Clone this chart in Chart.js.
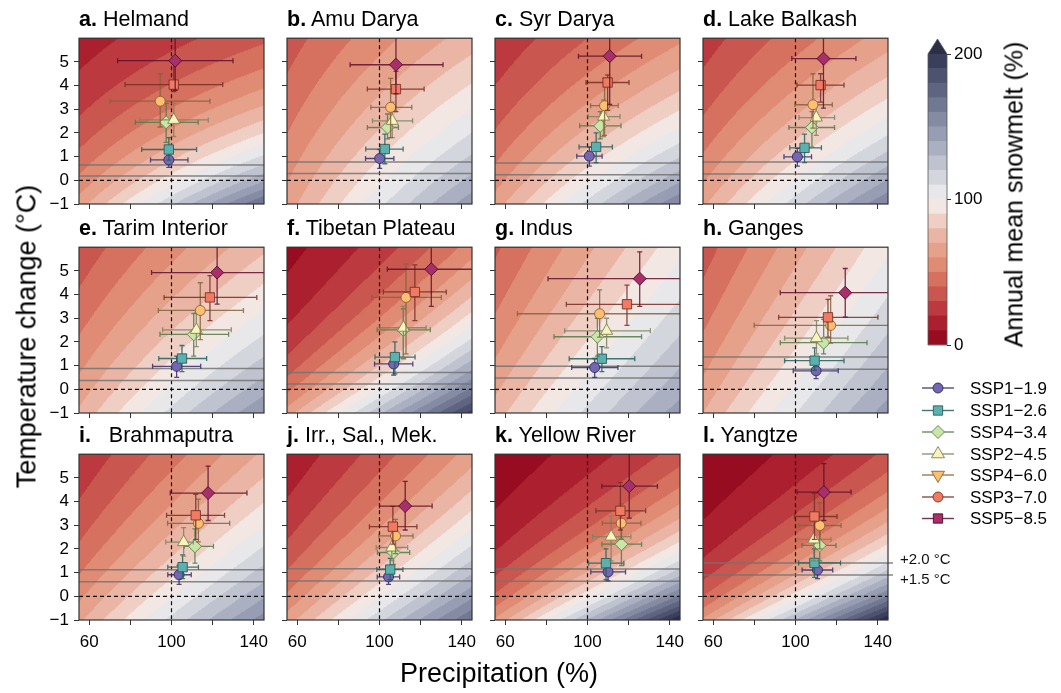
<!DOCTYPE html>
<html><head><meta charset="utf-8">
<script src="https://cdn.jsdelivr.net/npm/chart.js@4.4.1/dist/chart.umd.min.js"></script>
<style>
body{margin:0;background:#fff;width:1061px;height:693px;overflow:hidden;position:relative;font-family:"Liberation Sans",Arial,sans-serif;color:#000}
canvas{position:absolute}
.title{position:absolute;font-size:21.5px;line-height:21px;white-space:pre;color:#000}
.rot{position:absolute;white-space:nowrap;text-align:center;transform:rotate(-90deg);transform-origin:50% 50%}
</style></head><body>
<script>
// ---------- categories ----------
const basinLetters = ['a.','b.','c.','d.','e.','f.','g.','h.','i.','j.','k.','l.'];
const basinNames = ['Helmand','Amu Darya','Syr Darya','Lake Balkash','Tarim Interior','Tibetan Plateau','Indus','Ganges','Brahmaputra','Irr., Sal., Mek.','Yellow River','Yangtze'];
const scenarios = ['SSP1\u22121.9','SSP1\u22122.6','SSP4\u22123.4','SSP2\u22124.5','SSP4\u22126.0','SSP3\u22127.0','SSP5\u22128.5'];
const xTicks = [60,80,100,120,140];
const xLabeled = [60,100,140];
const yTicks = [-1,0,1,2,3,4,5];
const cbarLevels = [0,10,20,30,40,50,60,70,80,90,100,110,120,130,140,150,160,170,180,190,200];
const cbarTicks = [0,100,200];

// ---------- series values (precipitation %, temperature change °C) ----------
const precip119 = [98.7,100.1,100.9,100.9,102.5,106.9,103.5,110.0,103.7,104.4,110.0,110.7];
const temp119   = [0.86,0.92,1.02,0.99,0.97,1.07,0.92,0.78,0.91,0.82,1.03,1.11];
const pLo119 = [89.8,93.2,94.8,94.4,90.8,97.6,92.3,98.9,98.2,98.9,101.6,103.2];
const pHi119 = [108.0,107.0,107.1,107.8,114.2,116.2,114.8,120.8,109.6,109.8,118.5,118.1];
const tLo119 = [0.55,0.5,0.6,0.6,0.5,0.6,0.5,0.45,0.5,0.5,0.65,0.75];
const tHi119 = [1.2,1.3,1.4,1.35,1.4,1.5,1.3,1.1,1.3,1.1,1.3,1.4];

const precip126 = [98.7,102.6,104.2,104.4,105.1,107.5,107.0,109.3,105.4,105.2,109.0,109.2];
const temp126   = [1.30,1.32,1.41,1.37,1.30,1.36,1.29,1.21,1.23,1.13,1.40,1.41];
const pLo126 = [85.5,93.3,95.9,97.2,93.8,97.8,91.1,94.7,98.2,98.7,100.5,101.5];
const pHi126 = [112.2,111.5,112.1,112.6,117.1,117.3,123.0,123.6,113.1,111.4,117.7,121.9];
const tLo126 = [0.85,0.7,0.75,0.75,0.75,0.65,0.75,0.8,0.75,0.7,0.7,0.8];
const tHi126 = [1.8,1.95,2.0,1.95,1.85,2.0,1.8,1.75,1.75,1.6,2.0,2.0];

const precip434 = [97.4,103.9,106.2,108.0,110.8,111.6,104.8,113.7,111.4,106.8,116.5,111.8];
const temp434   = [2.45,2.23,2.30,2.23,2.32,2.51,2.22,1.97,2.11,1.85,2.20,2.15];
const pLo434 = [82.4,94.1,96.2,96.8,94.4,98.9,83.7,92.6,106.2,99.0,107.0,103.1];
const pHi434 = [113.0,109.2,116.3,119.0,127.8,124.7,126.3,134.8,120.4,114.7,126.3,119.7];
const tLo434 = [1.6,1.75,1.75,1.4,1.4,1.3,1.4,1.5,1.4,1.35,1.3,1.5];
const tHi434 = [3.25,2.8,2.9,2.9,3.2,3.4,3.0,2.95,2.85,2.5,2.9,2.9];

const precip245 = [101.1,106.2,107.8,110.1,112.1,111.6,109.3,110.2,105.9,106.0,111.5,108.9];
const temp245   = [2.55,2.51,2.69,2.65,2.51,2.60,2.47,2.16,2.29,2.06,2.52,2.40];
const pLo245 = [84.6,96.6,100.3,101.7,95.7,100.2,88.9,94.7,97.2,98.4,102.5,100.8];
const pHi245 = [117.9,116.1,115.8,119.0,129.1,122.7,130.6,125.5,110.6,113.7,121.1,117.3];
const tLo245 = [1.85,1.8,1.85,1.9,1.8,1.3,1.75,1.5,1.7,1.5,1.5,1.5];
const tHi245 = [3.25,3.3,3.4,3.3,3.25,3.5,3.0,2.9,2.9,2.9,3.4,3.1];

const precip460 = [94.5,105.4,108.3,108.5,114.0,112.9,105.9,117.1,113.1,107.8,116.4,111.8];
const temp460   = [3.34,3.08,3.15,3.19,3.33,3.88,3.19,2.70,3.08,2.55,3.09,2.99];
const pLo460 = [70.2,95.8,101.5,99.7,93.6,96.2,65.9,79.9,98.1,99.7,107.2,101.5];
const pHi460 = [118.7,115.7,114.9,117.9,135.0,130.1,150,150,128.3,116.3,126.0,122.2];
const tLo460 = [2.25,1.8,1.9,2.2,2.1,1.5,2.2,1.95,2.3,1.8,2.4,2.0];
const tHi460 = [4.5,4.3,4.3,4.5,4.5,5.3,4.2,3.95,4.1,3.25,3.9,3.95];

const precip370 = [101.1,108.0,109.8,112.2,118.7,117.2,119.2,115.8,111.8,106.5,116.0,109.2];
const temp370   = [4.04,3.85,4.13,4.02,3.88,4.11,3.59,3.04,3.42,2.94,3.61,3.37];
const pLo370 = [77.4,94.1,99.3,100.7,96.4,101.9,89.7,91.8,97.6,95.1,104.1,99.5];
const pHi370 = [124.9,121.7,120.2,123.6,141.5,132.5,150,140.1,125.8,118.2,128.3,120.2];
const tLo370 = [3.75,2.9,2.95,3.3,2.9,2.9,2.7,2.2,2.4,2.2,2.8,2.4];
const tHi370 = [4.95,4.6,4.45,4.5,4.8,5.25,4.4,3.8,4.3,3.8,4.8,4.35];

const precip585 = [101.8,108.0,110.8,113.6,122.2,125.2,125.4,124.2,117.8,112.5,120.3,113.8];
const temp585   = [5.05,4.88,5.24,5.14,4.93,5.07,4.67,4.08,4.36,3.81,4.65,4.40];
const pLo585 = [73.8,85.7,95.6,98.2,90.3,103.8,80.8,92.6,99.4,100.0,107.0,100.8];
const pHi585 = [129.9,130.9,126.3,129.4,150,150,150,150,136.7,125.6,134.0,127.0];
const tLo585 = [3.8,3.65,3.2,3.05,3.6,3.5,3.5,3.05,3.2,2.8,3.3,3.2];
const tHi585 = [6.5,6.5,6.5,6.5,6.5,6.5,5.8,5.1,5.5,4.85,6.0,5.6];

// warming-level lines (temperature change at +2.0 °C and +1.5 °C global warming)
const warm20 = [0.65,0.77,0.73,0.77,0.88,0.71,0.97,1.36,1.12,1.16,1.15,1.41];
const warm15 = [0.18,0.29,0.24,0.27,0.37,0.22,0.48,0.85,0.61,0.65,0.64,0.90];

// snowmelt response surface (%), read at the panel corners
const bgTopLeft     = [15,35,22,25,33,7,38,35,22,13,4,3];
const bgTopRight    = [38,75,58,65,78,55,97,98,72,65,35,33];
const bgBottomLeft  = [65,65,65,68,72,65,75,70,68,65,62,62];
const bgBottomRight = [172,147,160,160,150,195,145,145,155,170,210,210];

// ---------- styles ----------
const FONT = '"Liberation Sans", Arial, sans-serif';
Chart.defaults.font.family = FONT;
const palette = ['#980c22','#ab1f2e','#bc3a3f','#c9564f','#d6705f','#e08b74','#e6a18b','#eab5a5','#efcec4','#f3e7e4','#e8e8ea','#d4d6de','#bfc3cf','#aab0c1','#979eb3','#848ba3','#717892','#5f6581','#4c5270','#3a3f5c','#2a2e47'];
const markerFill = ['#7466b0','#5cb0ad','#c8e6a8','#f7f5bd','#fdbf70','#f07a62','#a8306a'];
const markerEdge = ['#2f2860','#2a5e5c','#5d7f4f','#7f7f55','#8a6035','#7e3024','#4a0c28'];
const barColor = ['rgba(50,45,105,0.85)','rgba(35,95,92,0.85)','rgba(85,120,70,0.85)','rgba(125,130,95,0.85)','rgba(130,100,60,0.85)','rgba(120,45,35,0.85)','rgba(95,15,45,0.85)'];
const panelStyle = ['circle','rect','rectRot','triangle','circle','rect','rectRot'];
const panelRadius = [5,6.6,6.5,7,5,6.6,6.5];
const legendStyle = ['circle','rect','rectRot','triangle','triangle','circle','rect'];
const legendRot = [0,0,0,0,180,0,0];
const legendRadius = [5,6.6,6.5,7.5,7.5,5,6.6];

const P = [precip119,precip126,precip434,precip245,precip460,precip370,precip585];
const T = [temp119,temp126,temp434,temp245,temp460,temp370,temp585];
const PLo = [pLo119,pLo126,pLo434,pLo245,pLo460,pLo370,pLo585];
const PHi = [pHi119,pHi126,pHi434,pHi245,pHi460,pHi370,pHi585];
const TLo = [tLo119,tLo126,tLo434,tLo245,tLo460,tLo370,tLo585];
const THi = [tHi119,tHi126,tHi434,tHi245,tHi460,tHi370,tHi585];

const paletteRGB = palette.map(h => [parseInt(h.slice(1,3),16),parseInt(h.slice(3,5),16),parseInt(h.slice(5,7),16)]);

// ---------- layout ----------
const colLeft = [79,287,495,703];
const rowTop = [33,242,449];
const PW = 185, PH = 171;
const ML = 52, MT = 10, MB = 42;

function surface(k, xs, ys, p, t){
  const u0 = Math.log(xs.min/100), u1 = Math.log(xs.max/100);
  const s = (Math.log(p/100) - u0)/(u1 - u0);
  const q = (t - ys.min)/(ys.max - ys.min);
  const lv = (1-s)*(1-q)*Math.log(bgBottomLeft[k]) + s*(1-q)*Math.log(bgBottomRight[k])
           + (1-s)*q*Math.log(bgTopLeft[k]) + s*q*Math.log(bgTopRight[k]);
  return Math.exp(lv);
}

const panelPlugin = {
  id:'panel',
  beforeDatasetsDraw(chart){
    const k = chart.options.plugins.panel.k;
    const {ctx, chartArea:a, scales:{x, y}} = chart;
    const w = Math.round(a.right - a.left), h = Math.round(a.bottom - a.top);
    const off = document.createElement('canvas'); off.width = w; off.height = h;
    const octx = off.getContext('2d');
    const img = octx.createImageData(w, h);
    for (let j = 0; j < h; j++){
      const tv = y.getValueForPixel(a.top + j + 0.5);
      for (let i = 0; i < w; i++){
        const pv = x.getValueForPixel(a.left + i + 0.5);
        const v = surface(k, x, y, pv, tv);
        const idx = Math.max(0, Math.min(20, Math.floor(v/10)));
        const c = paletteRGB[idx];
        const o = (j*w + i)*4;
        img.data[o] = c[0]; img.data[o+1] = c[1]; img.data[o+2] = c[2]; img.data[o+3] = 255;
      }
    }
    octx.putImageData(img, 0, 0);
    ctx.drawImage(off, a.left, a.top);
    // dashed reference lines
    ctx.save();
    ctx.strokeStyle = '#111'; ctx.lineWidth = 1.2; ctx.setLineDash([4,3]);
    const x100 = x.getPixelForValue(100), y0 = y.getPixelForValue(0);
    ctx.beginPath(); ctx.moveTo(x100, a.top); ctx.lineTo(x100, a.bottom);
    ctx.moveTo(a.left, y0); ctx.lineTo(a.right, y0); ctx.stroke();
    ctx.setLineDash([]);
    // warming level lines
    const ext = (k === 11) ? 5 : 0;
    ctx.strokeStyle = 'rgba(115,115,115,0.85)'; ctx.lineWidth = 1.5;
    const yw20 = y.getPixelForValue(warm20[k]), yw15 = y.getPixelForValue(warm15[k]);
    ctx.beginPath(); ctx.moveTo(a.left, yw20); ctx.lineTo(a.right + ext, yw20);
    ctx.moveTo(a.left, yw15); ctx.lineTo(a.right + ext, yw15); ctx.stroke();
    if (k === 11){
      ctx.fillStyle = '#111'; ctx.font = '15px ' + FONT; ctx.textBaseline = 'middle'; ctx.textAlign = 'left';
      ctx.fillText('+2.0 \u00B0C', a.right + 12, yw20 - 3);
      ctx.fillText('+1.5 \u00B0C', a.right + 12, yw15 + 5);
    }
    ctx.restore();
  },
  beforeDatasetDraw(chart, args){
    const ds = chart.data.datasets[args.index];
    const e = ds.err; if (!e) return;
    const {ctx, chartArea:a, scales:{x, y}} = chart;
    const px = x.getPixelForValue(ds.data[0].x), py = y.getPixelForValue(ds.data[0].y);
    const x0 = x.getPixelForValue(e.xLo), x1 = x.getPixelForValue(e.xHi);
    const y0 = y.getPixelForValue(e.yLo), y1 = y.getPixelForValue(e.yHi);
    const c = 2.5;
    ctx.save();
    ctx.beginPath(); ctx.rect(a.left, a.top, a.right - a.left, a.bottom - a.top); ctx.clip();
    ctx.strokeStyle = e.color; ctx.lineWidth = 1.3;
    ctx.beginPath();
    ctx.moveTo(x0, py); ctx.lineTo(x1, py);
    ctx.moveTo(px, y0); ctx.lineTo(px, y1);
    ctx.moveTo(x0, py - c); ctx.lineTo(x0, py + c);
    ctx.moveTo(x1, py - c); ctx.lineTo(x1, py + c);
    ctx.moveTo(px - c, y0); ctx.lineTo(px + c, y0);
    ctx.moveTo(px - c, y1); ctx.lineTo(px + c, y1);
    ctx.stroke();
    ctx.restore();
  },
  afterDraw(chart){
    const {ctx, chartArea:a} = chart;
    ctx.save(); ctx.strokeStyle = '#333'; ctx.lineWidth = 1.2;
    ctx.strokeRect(a.left, a.top, a.right - a.left, a.bottom - a.top);
    ctx.restore();
  }
};

function makePanel(k){
  const r = Math.floor(k/4), col = k % 4;
  const MR = (k === 11) ? 80 : 14;
  const cv = document.createElement('canvas');
  const W = ML + PW + MR, H = MT + PH + MB;
  cv.width = W; cv.height = H;
  cv.style.left = (colLeft[col] - ML) + 'px'; cv.style.top = (rowTop[r] - MT) + 'px';
  cv.style.width = W + 'px'; cv.style.height = H + 'px';
  document.body.appendChild(cv);

  const t = document.createElement('div');
  t.className = 'title';
  t.innerHTML = '<b>' + basinLetters[k] + '</b>' + (k === 8 ? '   ' : ' ') + basinNames[k];
  t.style.left = colLeft[col] + 'px'; t.style.top = (rowTop[r] - 24.5) + 'px';
  document.body.appendChild(t);

  const leftCol = col === 0, bottomRow = r === 2;
  const datasets = scenarios.map((name, s) => ({
    label: name,
    data: [{x: P[s][k], y: T[s][k]}],
    err: {xLo: PLo[s][k], xHi: PHi[s][k], yLo: TLo[s][k], yHi: THi[s][k], color: barColor[s]},
    pointStyle: panelStyle[s], pointRadius: panelRadius[s],
    pointBackgroundColor: markerFill[s], pointBorderColor: markerEdge[s], pointBorderWidth: 0.9,
    showLine: false, order: 6 - s
  }));
  new Chart(cv, {
    type: 'scatter',
    data: {datasets},
    plugins: [panelPlugin],
    options: {
      responsive: false, animation: false, devicePixelRatio: 1, events: [],
      layout: {padding: {left: 0, top: MT, right: MR, bottom: 0}},
      plugins: {legend: {display: false}, tooltip: {enabled: false}, panel: {k}},
      scales: {
        x: {type: 'linear', min: 55, max: 145,
          afterBuildTicks: s => { s.ticks = xTicks.map(v => ({value: v})); },
          afterFit: s => { s.height = MB; },
          grid: {drawOnChartArea: false, drawTicks: true, tickLength: 5, color: '#333', lineWidth: 1},
          border: {display: false},
          ticks: {font: {size: 17, family: FONT}, color: '#000', padding: 7, maxRotation: 0, autoSkip: false,
            callback: v => (bottomRow && xLabeled.includes(v)) ? String(v) : ''}},
        y: {type: 'linear', min: -1, max: 6,
          afterBuildTicks: s => { s.ticks = yTicks.map(v => ({value: v})); },
          afterFit: s => { s.width = ML; },
          grid: {drawOnChartArea: false, drawTicks: true, tickLength: 5, color: '#333', lineWidth: 1},
          border: {display: false},
          ticks: {font: {size: 17, family: FONT}, color: '#000', padding: 5, autoSkip: false,
            callback: v => leftCol ? (v < 0 ? '\u2212' + (-v) : String(v)) : ''}}
      }
    }
  });
}
for (let k = 0; k < 12; k++) makePanel(k);

// ---------- colorbar + legend ----------
(function(){
  const cv = document.createElement('canvas');
  const W = 161, H = 510;
  cv.width = W; cv.height = H; cv.style.left = '900px'; cv.style.top = '30px';
  cv.style.width = W + 'px'; cv.style.height = H + 'px';
  document.body.appendChild(cv);
  const datasets = [];
  for (let i = 0; i < cbarLevels.length - 1; i++){
    datasets.push({data: [cbarLevels[i+1] - cbarLevels[i]], backgroundColor: palette[i], borderWidth: 0,
      barPercentage: 1, categoryPercentage: 1});
  }
  const cbPlugin = {
    id: 'cb',
    afterDraw(chart){
      const {ctx, chartArea:a} = chart;
      ctx.save();
      ctx.fillStyle = palette[20];
      ctx.beginPath(); ctx.moveTo(a.left, a.top); ctx.lineTo(a.right, a.top); ctx.lineTo((a.left + a.right)/2, a.top - 15); ctx.closePath(); ctx.fill();
      ctx.strokeStyle = '#555'; ctx.lineWidth = 0.8;
      ctx.beginPath(); ctx.moveTo(a.left, a.bottom); ctx.lineTo(a.left, a.top); ctx.lineTo((a.left + a.right)/2, a.top - 15);
      ctx.lineTo(a.right, a.top); ctx.lineTo(a.right, a.bottom); ctx.closePath(); ctx.stroke();
      // legend
      const rows = [358, 380.5, 402, 424, 445, 467, 488.5];
      scenarios.forEach((name, s) => {
        const yy = rows[s];
        ctx.strokeStyle = barColor[s]; ctx.lineWidth = 1.4;
        ctx.beginPath(); ctx.moveTo(22, yy); ctx.lineTo(54, yy); ctx.stroke();
        ctx.fillStyle = markerFill[s]; ctx.strokeStyle = markerEdge[s]; ctx.lineWidth = 0.9;
        Chart.helpers.drawPoint(ctx, {pointStyle: legendStyle[s], rotation: legendRot[s], radius: legendRadius[s], borderWidth: 0.9}, 38, yy);
        ctx.fillStyle = '#000'; ctx.font = '17px ' + FONT; ctx.textAlign = 'left'; ctx.textBaseline = 'middle';
        ctx.fillText(name, 70, yy + 1);
      });
      ctx.restore();
    }
  };
  new Chart(cv, {
    type: 'bar',
    data: {labels: [''], datasets},
    plugins: [cbPlugin],
    options: {
      responsive: false, animation: false, devicePixelRatio: 1, events: [],
      layout: {padding: {left: 28, top: 24, right: 0, bottom: 195}},
      plugins: {legend: {display: false}, tooltip: {enabled: false}},
      scales: {
        x: {display: false, stacked: true},
        y: {stacked: true, position: 'right', min: 0, max: 200,
          afterBuildTicks: s => { s.ticks = cbarTicks.map(v => ({value: v})); },
          afterFit: s => { s.width = 114; },
          grid: {drawOnChartArea: false, drawTicks: true, tickLength: 4, color: '#333'},
          border: {display: false},
          ticks: {font: {size: 17, family: FONT}, color: '#000', padding: 3}}
      }
    }
  });
})();

// ---------- axis titles ----------
function rotLabel(text, cx, cy, size){
  const d = document.createElement('div');
  d.className = 'rot'; d.textContent = text;
  d.style.fontSize = size + 'px'; d.style.lineHeight = size + 'px';
  d.style.width = '420px'; d.style.left = (cx - 210) + 'px'; d.style.top = (cy - size/2) + 'px';
  document.body.appendChild(d);
}
rotLabel('Temperature change (\u00B0C)', 27, 336, 27);
rotLabel('Annual mean snowmelt (%)', 1014, 194, 25);
const xl = document.createElement('div');
xl.textContent = 'Precipitation (%)';
xl.style.cssText = 'position:absolute;left:299px;width:400px;text-align:center;top:660px;font-size:27px;line-height:27px;white-space:nowrap';
document.body.appendChild(xl);
</script>
</body></html>
